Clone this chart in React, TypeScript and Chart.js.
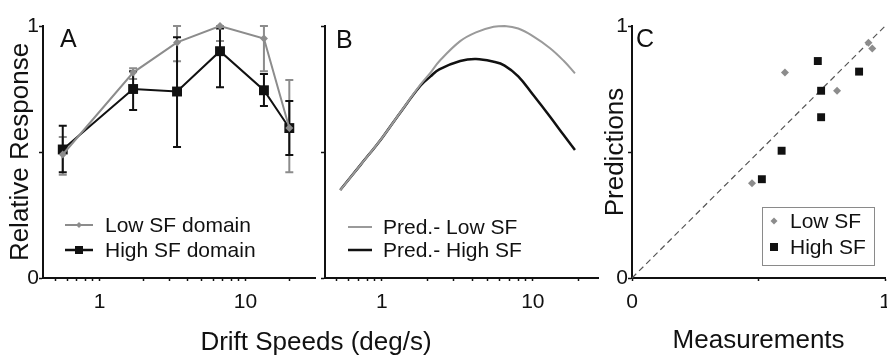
import React, { useEffect, useRef } from 'react';
import { Chart, registerables } from 'chart.js';

Chart.register(...registerables);

const FONT = "'Liberation Sans', Arial, Helvetica, sans-serif";
const INK = '#111111';
const GRAY = '#8c8c8c';
const LIGHT = '#9a9a9a';

// ---- Panel A: measured relative responses (drift speed in deg/s)
const speedsA = [0.56, 1.7, 3.4, 6.7, 13.4, 20];
const lowSFResp = [0.49, 0.815, 0.935, 1.0, 0.95, 0.595];
const lowSFUpper = [0.56, 0.832, 1.0, 1.0, 1.0, 0.786];
const lowSFLower = [0.41, 0.79, 0.86, 0.94, 0.82, 0.42];
const highSFResp = [0.51, 0.75, 0.74, 0.9, 0.745, 0.595];
const highSFUpper = [0.604, 0.82, 0.955, 0.99, 0.81, 0.702];
const highSFLower = [0.42, 0.667, 0.52, 0.757, 0.683, 0.488];

// ---- Panel B: predicted tuning curves
const speedsB = [0.53, 0.72, 1.0, 1.3, 1.8, 2.1, 2.4, 3.3, 4.2, 5.5, 6.5, 8, 10, 13, 16, 19];
const predLowSF = [0.349, 0.448, 0.555, 0.65, 0.767, 0.815, 0.86, 0.94, 0.975, 0.997, 1.0, 0.99, 0.96, 0.912, 0.862, 0.812];
const predHighSF = [0.349, 0.448, 0.555, 0.65, 0.763, 0.8, 0.828, 0.861, 0.869, 0.858, 0.843, 0.8, 0.728, 0.64, 0.567, 0.508];

// ---- Panel C: predictions vs measurements
const measuredLow = [0.474, 0.604, 0.81, 0.934, 0.949];
const predictedLow = [0.376, 0.815, 0.743, 0.934, 0.911];
const measuredHigh = [0.513, 0.591, 0.734, 0.747, 0.747, 0.897];
const predictedHigh = [0.392, 0.505, 0.861, 0.743, 0.638, 0.819];
const identityLine = [0, 1];

// ---- ticks and labels
const speedTicks = [0.5, 0.6, 0.7, 0.8, 0.9, 1, 2, 3, 4, 5, 6, 7, 8, 9, 10, 20];
const speedTickLabels = [1, 10];
const unitTicks = [0, 0.5, 1];
const unitTickLabels = [0, 1];

const labelsA = ['Low SF domain', 'High SF domain'];
const labelsB = ['Pred.- Low SF', 'Pred.- High SF'];
const labelsC = ['Low SF', 'High SF'];

const tickFont = { family: FONT, size: 21 };
const titleFont = { family: FONT, size: 26, lineHeight: 1 };

function speedAxis(min: number, max: number) {
  return {
    type: 'logarithmic',
    min,
    max,
    afterBuildTicks: (s: any) => {
      s.ticks = speedTicks.map((v) => ({ value: v }));
    },
    afterFit: (s: any) => {
      s.height = 80;
    },
    ticks: {
      autoSkip: false,
      maxRotation: 0,
      minRotation: 0,
      padding: 9,
      color: INK,
      font: tickFont,
      callback: (v: any) => (speedTickLabels.includes(Number(v)) ? String(v) : ''),
    },
    grid: { drawOnChartArea: false, drawTicks: true, tickLength: 3, tickColor: INK, tickWidth: 1.5 },
    border: { display: true, color: INK, width: 2 },
  };
}

function unitXAxis(title: string) {
  return {
    type: 'linear',
    min: 0,
    max: 1,
    afterBuildTicks: (s: any) => {
      s.ticks = unitTicks.map((v) => ({ value: v }));
    },
    afterFit: (s: any) => {
      s.height = 80;
    },
    ticks: {
      autoSkip: false,
      maxRotation: 0,
      minRotation: 0,
      padding: 9,
      color: INK,
      font: tickFont,
      callback: (v: any) => (unitTickLabels.includes(Number(v)) ? String(v) : ''),
    },
    grid: { drawOnChartArea: false, drawTicks: true, tickLength: 3, tickColor: INK, tickWidth: 1.5 },
    border: { display: true, color: INK, width: 2 },
    title: { display: true, text: title, color: INK, font: titleFont, padding: { top: 0, bottom: 4 } },
  };
}

function unitYAxis(width: number, showLabels: boolean, title: string | null, titlePad: number) {
  return {
    type: 'linear',
    min: 0,
    max: 1,
    afterBuildTicks: (s: any) => {
      s.ticks = unitTicks.map((v) => ({ value: v }));
    },
    afterFit: (s: any) => {
      s.width = width;
    },
    ticks: {
      display: showLabels,
      padding: 0,
      color: INK,
      font: tickFont,
      callback: (v: any) => (unitTickLabels.includes(Number(v)) ? String(v) : ''),
    },
    grid: { drawOnChartArea: false, drawTicks: true, tickLength: 4, tickColor: INK, tickWidth: 1.5 },
    border: { display: true, color: INK, width: 2 },
    title: title
      ? { display: true, text: title, color: INK, font: titleFont, padding: { top: titlePad, bottom: 0 } }
      : { display: false },
  };
}

type Row = {
  color: string;
  lineWidth: number;
  marker: 'diamond' | 'square' | 'none';
  size: number;
  y: number;
};

type Decor = {
  letter: string;
  lx: number;
  ly: number;
  sx0: number;
  sx1: number;
  tx: number;
  showLine: boolean;
  rows: Row[];
  box?: { x: number; y: number; w: number; h: number };
};

function drawMarker(ctx: CanvasRenderingContext2D, kind: string, x: number, y: number, r: number, color: string) {
  if (kind === 'none') return;
  ctx.fillStyle = color;
  ctx.beginPath();
  if (kind === 'square') {
    ctx.rect(x - r, y - r, 2 * r, 2 * r);
  } else {
    ctx.moveTo(x, y - r);
    ctx.lineTo(x + r, y);
    ctx.lineTo(x, y + r);
    ctx.lineTo(x - r, y);
    ctx.closePath();
  }
  ctx.fill();
}

function decorPlugin(cfg: Decor) {
  return {
    id: 'panelDecor',
    afterDraw(chart: any) {
      const ctx: CanvasRenderingContext2D = chart.ctx;
      ctx.save();
      ctx.fillStyle = INK;
      ctx.font = `25px ${FONT}`;
      ctx.textBaseline = 'alphabetic';
      ctx.textAlign = 'left';
      ctx.fillText(cfg.letter, cfg.lx, cfg.ly);
      if (cfg.box) {
        ctx.fillStyle = '#ffffff';
        ctx.fillRect(cfg.box.x, cfg.box.y, cfg.box.w, cfg.box.h);
        ctx.strokeStyle = '#8a8a8a';
        ctx.lineWidth = 1;
        ctx.strokeRect(cfg.box.x + 0.5, cfg.box.y + 0.5, cfg.box.w, cfg.box.h);
      }
      const ds = chart.data.datasets;
      cfg.rows.forEach((row, i) => {
        if (cfg.showLine) {
          ctx.strokeStyle = row.color;
          ctx.lineWidth = row.lineWidth;
          ctx.beginPath();
          ctx.moveTo(cfg.sx0, row.y);
          ctx.lineTo(cfg.sx1, row.y);
          ctx.stroke();
        }
        drawMarker(ctx, row.marker, (cfg.sx0 + cfg.sx1) / 2, row.y, row.size, row.color);
        ctx.fillStyle = INK;
        ctx.font = `21px ${FONT}`;
        ctx.textBaseline = 'middle';
        ctx.fillText(ds[i].label, cfg.tx, row.y + 1);
      });
      ctx.restore();
    },
  };
}

type Bars = { datasetIndex: number; lower: number[]; upper: number[]; color: string; width: number; cap: number };

function errorBarPlugin(list: Bars[]) {
  return {
    id: 'errorBars',
    beforeDatasetsDraw(chart: any) {
      const xs = chart.scales.x;
      const ys = chart.scales.y;
      const ctx: CanvasRenderingContext2D = chart.ctx;
      ctx.save();
      list.forEach((b) => {
        const data = chart.data.datasets[b.datasetIndex].data;
        ctx.strokeStyle = b.color;
        ctx.lineWidth = b.width;
        data.forEach((pt: any, i: number) => {
          const x = xs.getPixelForValue(pt.x);
          const yl = ys.getPixelForValue(b.lower[i]);
          const yu = ys.getPixelForValue(b.upper[i]);
          ctx.beginPath();
          ctx.moveTo(x, yl);
          ctx.lineTo(x, yu);
          ctx.moveTo(x - b.cap, yl);
          ctx.lineTo(x + b.cap, yl);
          ctx.moveTo(x - b.cap, yu);
          ctx.lineTo(x + b.cap, yu);
          ctx.stroke();
        });
      });
      ctx.restore();
    },
  };
}

const pts = (xs: number[], ys: number[]) => xs.map((x, i) => ({ x, y: ys[i] }));

function makeA(canvas: HTMLCanvasElement) {
  return new Chart(canvas, {
    type: 'line',
    data: {
      datasets: [
        {
          label: labelsA[0],
          data: pts(speedsA, lowSFResp),
          borderColor: GRAY,
          borderWidth: 2,
          pointStyle: 'rectRot',
          pointRadius: 4,
          pointBackgroundColor: GRAY,
          pointBorderColor: GRAY,
          pointBorderWidth: 0,
          clip: false,
        },
        {
          label: labelsA[1],
          data: pts(speedsA, highSFResp),
          borderColor: INK,
          borderWidth: 2,
          pointStyle: 'rect',
          pointRadius: 7,
          pointBackgroundColor: INK,
          pointBorderColor: INK,
          pointBorderWidth: 0,
          clip: false,
        },
      ],
    },
    options: {
      animation: false,
      responsive: false,
      devicePixelRatio: 1,
      layout: { padding: { left: 0, right: 5, top: 26, bottom: 0 } },
      plugins: { legend: { display: false }, tooltip: { enabled: false } },
      scales: {
        x: speedAxis(0.41, 30),
        y: unitYAxis(43, true, 'Relative Response', 8),
      },
    } as any,
    plugins: [
      errorBarPlugin([
        { datasetIndex: 0, lower: lowSFLower, upper: lowSFUpper, color: GRAY, width: 2, cap: 4 },
        { datasetIndex: 1, lower: highSFLower, upper: highSFUpper, color: INK, width: 2, cap: 4 },
      ]),
      decorPlugin({
        letter: 'A',
        lx: 60,
        ly: 47,
        sx0: 65,
        sx1: 93,
        tx: 105,
        showLine: true,
        rows: [
          { color: GRAY, lineWidth: 2, marker: 'diamond', size: 3, y: 225 },
          { color: INK, lineWidth: 2.5, marker: 'square', size: 4, y: 250 },
        ],
      }),
    ],
  } as any);
}

function makeB(canvas: HTMLCanvasElement) {
  return new Chart(canvas, {
    type: 'line',
    data: {
      datasets: [
        {
          label: labelsB[0],
          data: pts(speedsB, predLowSF),
          borderColor: LIGHT,
          borderWidth: 2,
          pointRadius: 0,
          tension: 0.4,
          clip: false,
        },
        {
          label: labelsB[1],
          data: pts(speedsB, predHighSF),
          borderColor: INK,
          borderWidth: 2.5,
          pointRadius: 0,
          tension: 0.4,
          clip: false,
        },
      ],
    },
    options: {
      animation: false,
      responsive: false,
      devicePixelRatio: 1,
      layout: { padding: { left: 0, right: 7, top: 26, bottom: 0 } },
      plugins: { legend: { display: false }, tooltip: { enabled: false } },
      scales: {
        x: speedAxis(0.42, 27),
        y: unitYAxis(25, false, null, 0),
      },
    } as any,
    plugins: [
      decorPlugin({
        letter: 'B',
        lx: 36,
        ly: 48,
        sx0: 48,
        sx1: 72,
        tx: 83,
        showLine: true,
        rows: [
          { color: LIGHT, lineWidth: 2, marker: 'none', size: 0, y: 227 },
          { color: INK, lineWidth: 2.5, marker: 'none', size: 0, y: 250 },
        ],
      }),
    ],
  } as any);
}

function makeC(canvas: HTMLCanvasElement) {
  return new Chart(canvas, {
    type: 'scatter',
    data: {
      datasets: [
        {
          label: labelsC[0],
          data: pts(measuredLow, predictedLow),
          pointStyle: 'rectRot',
          pointRadius: 4,
          pointBackgroundColor: GRAY,
          pointBorderColor: GRAY,
          pointBorderWidth: 0,
          clip: false,
          order: 1,
        },
        {
          label: labelsC[1],
          data: pts(measuredHigh, predictedHigh),
          pointStyle: 'rect',
          pointRadius: 5.6,
          pointBackgroundColor: INK,
          pointBorderColor: INK,
          pointBorderWidth: 0,
          clip: false,
          order: 0,
        },
        {
          type: 'line',
          label: 'identity',
          data: pts(identityLine, identityLine),
          borderColor: '#555555',
          borderWidth: 1.2,
          borderDash: [6, 4],
          pointRadius: 0,
          showLine: true,
          clip: false,
          order: 2,
        },
      ],
    },
    options: {
      animation: false,
      responsive: false,
      devicePixelRatio: 1,
      layout: { padding: { left: 0, right: 14, top: 26, bottom: 0 } },
      plugins: { legend: { display: false }, tooltip: { enabled: false } },
      scales: {
        x: unitXAxis('Measurements'),
        y: unitYAxis(37, true, 'Predictions', 7.5),
      },
    } as any,
    plugins: [
      decorPlugin({
        letter: 'C',
        lx: 41,
        ly: 47,
        sx0: 174,
        sx1: 184,
        tx: 195,
        showLine: false,
        box: { x: 167, y: 207, w: 112, h: 58 },
        rows: [
          { color: GRAY, lineWidth: 0, marker: 'diamond', size: 3.5, y: 221 },
          { color: INK, lineWidth: 0, marker: 'square', size: 4, y: 247 },
        ],
      }),
    ],
  } as any);
}

function Panel({ left, width, make }: { left: number; width: number; make: (c: HTMLCanvasElement) => Chart }) {
  const ref = useRef<HTMLCanvasElement | null>(null);
  useEffect(() => {
    if (!ref.current) return;
    const chart = make(ref.current);
    return () => chart.destroy();
  }, [make]);
  return (
    <canvas
      ref={ref}
      width={width}
      height={358}
      style={{ position: 'absolute', left, top: 0, width, height: 358 }}
    />
  );
}

export default function App() {
  return (
    <div
      style={{
        position: 'fixed',
        left: 0,
        top: 0,
        width: 887,
        height: 358,
        overflow: 'hidden',
        background: '#ffffff',
      }}
    >
      <Panel left={0} width={322} make={makeA} />
      <Panel left={300} width={305} make={makeB} />
      <Panel left={595} width={305} make={makeC} />
      <div
        style={{
          position: 'absolute',
          left: 0,
          top: 328,
          width: 632,
          textAlign: 'center',
          fontFamily: FONT,
          fontSize: 26,
          lineHeight: '26px',
          color: INK,
          whiteSpace: 'nowrap',
        }}
      >
        Drift Speeds (deg/s)
      </div>
    </div>
  );
}
